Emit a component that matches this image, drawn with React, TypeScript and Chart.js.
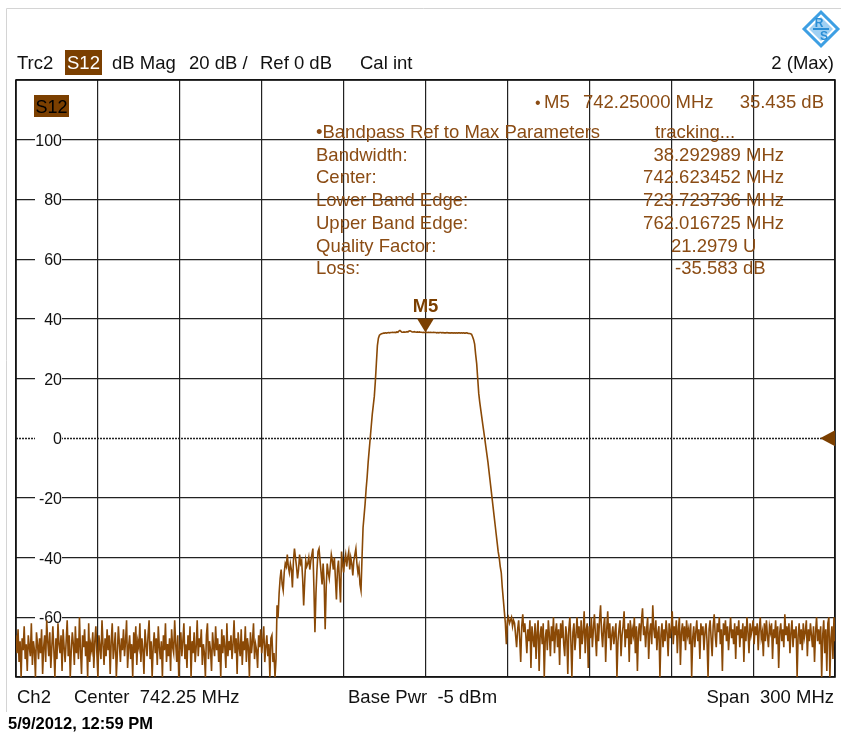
import { useEffect, useRef } from 'react';
import { Chart, registerables } from 'chart.js';

Chart.register(...registerables);

// ---- sweep / axes ----
const startFreq = 592.25;
const stopFreq = 892.25;
const xGridFreqs = [592.25, 622.25, 652.25, 682.25, 712.25, 742.25, 772.25, 802.25, 832.25, 862.25, 892.25];
const yMin = -80;
const yMax = 120;
const yStep = 20;

// ---- trace (S12, dB) in sweep order ----
const noiseLow = [
  -66, -72, -64, -75, -68, -80, -67, -71, -63, -74, -69, -78, -66, -70, -73,
  -62, -76, -68, -71, -80, -65, -69, -74, -67, -72, -64, -79, -70, -66, -75,
  -61, -68, -73, -65, -77, -70, -63, -71, -80, -67, -74, -62, -69, -72, -66,
  -78, -64, -70, -75, -68, -61, -73, -66, -80, -71, -65, -69, -76, -63, -72,
  -67, -74, -60, -71, -79, -66, -70, -64, -73, -68, -80, -62, -75, -69, -71,
  -65, -77, -68, -63, -72, -80, -66, -70, -74, -61, -69, -76, -67, -73, -64,
  -71, -66, -79, -68, -62, -74, -70, -65, -80, -72, -63, -69, -75, -67, -71,
  -64, -73, -68, -61, -77, -70, -66, -74, -69, -80, -65, -72, -63, -76, -68,
  -70, -62, -75, -67, -71, -79, -64, -69, -73, -66, -61, -74, -68, -80, -70,
  -65, -72, -67, -76, -63, -70, -74, -68, -80, -66, -71, -62, -75, -69, -73,
  -67, -78, -64, -70, -72, -61, -69, -75, -66, -80, -71, -65, -73, -68, -62,
  -74, -69, -77, -66, -71, -63, -80, -68, -72, -65, -75, -70, -61, -73, -67,
  -70, -64, -76, -69, -72, -80, -66, -62, -74, -68, -71, -78, -65, -70, -73,
  -63, -71, -67, -75, -69, -80, -64, -72, -66, -70, -77, -62, -73, -68, -71,
  -66, -74, -69, -61, -72, -67, -79, -65, -70, -73, -64, -76, -68, -71, -63,
  -75, -67, -70, -80, -65, -72, -68, -62, -74, -69, -71, -77, -66, -70, -64,
  -72, -68, -63, -75, -70, -66, -73, -69, -80, -67, -66, -75, -72, -80, -74,
];
const shoulder = [
  -56, -60, -52, -47, -44, -49, -51, -45, -42, -43,
  -39, -43, -45, -42, -44, -50, -41, -37, -40, -43,
  -47, -44, -39, -42, -41, -47, -56, -48, -41, -43,
  -42, -40, -44, -41, -39, -37, -50, -65, -52, -44,
  -38, -37, -41, -45, -49, -42, -48, -64, -50, -42,
  -45, -47, -43, -39, -41, -44, -40, -47, -54, -44,
  -41, -48, -55, -38, -42, -45, -41, -39, -43, -40,
  -38, -44, -40, -42, -46, -41, -39, -37, -42, -45,
  -43, -49, -51,
];
const edgeRise = [-40, -30, -26, -22, -17, -13, -8, -4, 0, 4, 8, 11, 14, 19, 25, 31, 33.5, 34.5];
const passTop = [
  34.8, 35.0, 35.1, 35.2, 35.2, 35.3, 35.2, 35.3,
  35.4, 35.3, 35.4, 35.4, 35.5, 35.4, 35.5, 35.4,
  35.6, 35.5, 35.9, 36.1, 35.8, 35.5, 35.5, 35.6,
  35.5, 35.6, 35.7, 35.6, 35.9, 36.0, 35.8, 35.6,
  35.6, 35.7, 35.6, 35.5, 35.6, 35.5, 35.6, 35.5,
  35.5, 35.4, 35.5, 35.4, 35.4, 35.5, 35.4, 35.5,
  35.4, 35.5, 35.4, 35.4, 35.5, 35.4, 35.4, 35.3,
  35.4, 35.3, 35.4, 35.4, 35.3, 35.4, 35.3, 35.3,
  35.3, 35.4, 35.3, 35.3, 35.2, 35.3, 35.3, 35.2,
  35.3, 35.2, 35.3, 35.2, 35.3, 35.3, 35.2, 35.3,
  35.2, 35.3, 35.2, 35.2, 35.3, 35.2, 35.1, 35.1,
];
const edgeFall = [
  35.0, 34.8, 34, 33, 31.5, 28, 25, 20, 15, 12, 9.5, 7, 4.5, 2, -0.5, -3, -5.5, -8, -11,
  -14, -17, -20, -23, -26, -29, -32, -35, -38, -40, -43, -45, -50, -54, -58, -62, -69, -61,
];
const noiseHigh = [
  -60, -62, -61, -60, -63, -61, -62, -66, -70, -64, -61, -67, -75, -63, -59, -65,
  -62, -66, -72, -64, -68, -61, -77, -63, -67, -70, -62, -74, -65, -61, -78, -66,
  -63, -69, -62, -80, -67, -64, -71, -61, -66, -73, -63, -68, -60, -72, -65, -62,
  -70, -64, -76, -62, -67, -61, -69, -73, -63, -66, -79, -64, -60, -68, -80, -65,
  -62, -71, -66, -60, -67, -63, -74, -61, -69, -65, -58, -72, -64, -62, -77, -63,
  -67, -60, -70, -64, -59, -66, -73, -62, -68, -61, -56, -65, -70, -63, -60, -75,
  -64, -58, -67, -62, -71, -66, -63, -69, -65, -62, -80, -68, -64, -61, -73, -66,
  -63, -58, -70, -64, -67, -62, -75, -61, -69, -64, -66, -60, -72, -63, -78, -65,
  -62, -68, -61, -57, -66, -63, -70, -64, -60, -74, -65, -62, -69, -56, -64, -67,
  -61, -71, -65, -63, -80, -66, -62, -70, -64, -68, -61, -65, -73, -62, -67, -64,
  -58, -69, -63, -66, -61, -72, -64, -60, -76, -65, -62, -68, -63, -71, -61, -66,
  -64, -69, -62, -80, -67, -63, -70, -65, -61, -68, -64, -74, -62, -66, -63, -71,
  -65, -62, -68, -80, -64, -61, -67, -73, -63, -59, -66, -70, -62, -65, -60, -69,
  -64, -78, -62, -66, -61, -68, -63, -71, -65, -60, -67, -64, -69, -62, -74, -63,
  -66, -61, -70, -64, -67, -62, -75, -63, -68, -60, -65, -72, -62, -66, -64, -61,
  -69, -63, -66, -62, -71, -64, -60, -67, -65, -73, -62, -68, -61, -66, -70, -63,
  -65, -62, -74, -64, -67, -61, -69, -63, -77, -65, -62, -68, -64, -70, -59, -66,
  -63, -68, -62, -72, -65, -61, -70, -64, -67, -63, -80, -66, -62, -69, -64, -71,
  -62, -67, -65, -61, -73, -64, -68, -62, -66, -70, -63, -75, -65, -60, -68, -64,
  -69, -63, -80, -66, -61, -72, -64, -78, -62, -60, -80, -67, -63, -74, -60, -68,
];

// ---- marker / annotations ----
const markerName = 'M5';
const markerFreq = 742.25;
const markerValue = 35.435;
const refLevel = 0;
const headerTexts = ['Trc2', 'S12', 'dB Mag', '20 dB /', 'Ref 0 dB', 'Cal int'];
const headerRight = '2 (Max)';
const markerLine = ['\u2022', 'M5', '742.25000 MHz', '35.435 dB'];
const bandpassTitle = '\u2022Bandpass Ref to Max Parameters';
const bandpassStatus = 'tracking...';
const bandpassLabels = ['Bandwidth:', 'Center:', 'Lower Band Edge:', 'Upper Band Edge:', 'Quality Factor:', 'Loss:'];
const bandpassValues = ['38.292989 MHz', '742.623452 MHz', '723.723736 MHz', '762.016725 MHz', '21.2979 U', '-35.583 dB'];
const footerTexts = ['Ch2', 'Center  742.25 MHz', 'Base Pwr  -5 dBm', 'Span  300 MHz'];
const timestamp = '5/9/2012, 12:59 PM';

const FONT = '"Liberation Sans", Arial, Helvetica, sans-serif';
const TRACE = '#8a4906';
const TBROWN = '#8b4c14';
const BOX = '#7b3f00';

function put(ctx: CanvasRenderingContext2D, s: string, x: number, y: number, size: number, color: string, align: CanvasTextAlign = 'left', bold = false) {
  ctx.font = `${bold ? 'bold ' : ''}${size}px ${FONT}`;
  ctx.fillStyle = color;
  ctx.textAlign = align;
  ctx.textBaseline = 'alphabetic';
  ctx.fillText(s, x, y);
}

const decorPlugin = {
  id: 'zvaDecor',
  beforeDatasetsDraw(chart: any) {
    const ctx: CanvasRenderingContext2D = chart.ctx;
    const { left, right, top, bottom } = chart.chartArea;
    const ys = chart.scales.y;
    ctx.save();
    // dotted reference (0 dB) line
    const y0 = Math.round(ys.getPixelForValue(refLevel)) + 0.5;
    ctx.strokeStyle = '#222';
    ctx.lineWidth = 1.3;
    ctx.setLineDash([2, 1]);
    ctx.beginPath();
    ctx.moveTo(left, y0);
    ctx.lineTo(right, y0);
    ctx.stroke();
    ctx.setLineDash([]);
    // frame
    ctx.strokeStyle = '#111';
    ctx.lineWidth = 1.6;
    ctx.strokeRect(left, top, right - left, bottom - top);
    // y labels inside plot
    for (const t of ys.ticks) {
      if (t.value <= yMin || t.value >= yMax) continue;
      const y = ys.getPixelForValue(t.value);
      ctx.fillStyle = '#fff';
      ctx.fillRect(left + 19, y - 8, 27, 16);
      put(ctx, String(t.value), left + 46, y + 6, 16, '#111', 'right');
    }
    ctx.restore();
  },
  afterDatasetsDraw(chart: any) {
    const ctx: CanvasRenderingContext2D = chart.ctx;
    const { left, right, top } = chart.chartArea;
    const xs = chart.scales.x;
    const ys = chart.scales.y;
    ctx.save();
    // S12 trace label box
    ctx.fillStyle = BOX;
    ctx.fillRect(left + 18, top + 15, 35, 22);
    put(ctx, headerTexts[1], left + 35.5, top + 33, 18, '#000', 'center');
    // marker M5
    const mx = xs.getPixelForValue(markerFreq);
    const my = ys.getPixelForValue(markerValue);
    ctx.fillStyle = '#7b3f00';
    ctx.beginPath();
    ctx.moveTo(mx, my);
    ctx.lineTo(mx - 8.5, my - 14);
    ctx.lineTo(mx + 8.5, my - 14);
    ctx.closePath();
    ctx.fill();
    put(ctx, markerName, mx, my - 20, 18.5, '#7b3f00', 'center', true);
    // reference level arrow on right edge
    const ry = ys.getPixelForValue(refLevel);
    ctx.fillStyle = '#7b3f00';
    ctx.beginPath();
    ctx.moveTo(right - 15, ry);
    ctx.lineTo(right, ry - 8);
    ctx.lineTo(right, ry + 8);
    ctx.closePath();
    ctx.fill();
    ctx.restore();
  },
  afterDraw(chart: any) {
    const ctx: CanvasRenderingContext2D = chart.ctx;
    ctx.save();
    // outer light frame of the screenshot
    ctx.strokeStyle = '#d4d4d4';
    ctx.lineWidth = 1;
    ctx.beginPath();
    ctx.moveTo(6.5, 712);
    ctx.lineTo(6.5, 8.5);
    ctx.lineTo(841, 8.5);
    ctx.stroke();

    // header
    const hb = 69;
    put(ctx, headerTexts[0], 17, hb, 18.5, '#111');
    ctx.fillStyle = BOX;
    ctx.fillRect(65, 50, 37, 25);
    put(ctx, headerTexts[1], 67, hb, 18.5, '#fff');
    put(ctx, headerTexts[2], 112, hb, 18.5, '#111');
    put(ctx, headerTexts[3], 189, hb, 18.5, '#111');
    put(ctx, headerTexts[4], 260, hb, 18.5, '#111');
    put(ctx, headerTexts[5], 360, hb, 18.5, '#111');
    put(ctx, headerRight, 834, hb, 18.5, '#111', 'right');

    // marker readout
    put(ctx, markerLine[0], 535, 108, 16, TBROWN);
    put(ctx, markerLine[1], 544, 108, 18.5, TBROWN);
    put(ctx, markerLine[2], 583, 108, 18.5, TBROWN);
    put(ctx, markerLine[3], 824, 108, 18.5, TBROWN, 'right');

    // bandpass table
    const rowH = 22.7;
    put(ctx, bandpassTitle, 316, 138, 18.5, TBROWN);
    put(ctx, bandpassStatus, 655, 138, 18.5, TBROWN);
    bandpassLabels.forEach((s, i) => put(ctx, s, 316, 138 + rowH * (i + 1), 18.5, TBROWN));
    bandpassValues.forEach((s, i) => {
      const yb = 138 + rowH * (i + 1);
      if (i < 4) put(ctx, s, 784, yb, 18.5, TBROWN, 'right');
      else put(ctx, s, i === 4 ? 671 : 675, yb, 18.5, TBROWN);
    });

    // footer
    put(ctx, footerTexts[0], 17, 703, 18.5, '#111');
    put(ctx, footerTexts[1], 74, 703, 18.5, '#111');
    put(ctx, footerTexts[2], 348, 703, 18.5, '#111');
    put(ctx, footerTexts[3], 834, 703, 18.5, '#111', 'right');
    put(ctx, timestamp, 8, 729, 16.5, '#000', 'left', true);

    // R&S logo
    const cx = 821, cy = 29;
    ctx.translate(cx, cy);
    ctx.rotate(Math.PI / 4);
    ctx.fillStyle = '#3d9fe3';
    ctx.fillRect(-13.5, -13.5, 27, 27);
    ctx.fillStyle = '#ffffff';
    ctx.fillRect(-10.5, -10.5, 21, 21);
    ctx.fillStyle = '#9fd0f3';
    ctx.fillRect(-8.5, -8.5, 17, 17);
    ctx.rotate(-Math.PI / 4);
    ctx.fillStyle = '#2b8fd6';
    ctx.fillRect(-8, -1, 16, 2);
    put(ctx, 'R', -2, -2, 12, '#2b8fd6', 'center', true);
    put(ctx, 'S', 3, 11, 12, '#2b8fd6', 'center', true);
    ctx.restore();
  },
};

export default function App() {
  const ref = useRef<HTMLCanvasElement | null>(null);
  useEffect(() => {
    document.body.style.margin = '0';
    const canvas = ref.current;
    if (!canvas) return;
    const values = [...noiseLow, ...shoulder, ...edgeRise, ...passTop, ...edgeFall, ...noiseHigh];
    const step = (stopFreq - startFreq) / (values.length - 1);
    const points = values.map((v, i) => ({ x: startFreq + i * step, y: v }));
    const chart = new Chart(canvas, {
      type: 'line',
      data: {
        datasets: [
          {
            data: points,
            borderColor: TRACE,
            borderWidth: 1.6,
            pointRadius: 0,
            tension: 0,
          },
        ],
      },
      options: {
        animation: false,
        responsive: false,
        events: [],
        layout: { padding: { left: 16, top: 80, right: 6, bottom: 59 } },
        plugins: { legend: { display: false }, tooltip: { enabled: false }, title: { display: false } },
        scales: {
          x: {
            type: 'linear',
            min: startFreq,
            max: stopFreq,
            afterBuildTicks: (s: any) => {
              s.ticks = xGridFreqs.map((v) => ({ value: v }));
            },
            ticks: { display: false },
            grid: { color: '#222', lineWidth: 1.2, drawTicks: false },
            border: { display: false },
          },
          y: {
            type: 'linear',
            min: yMin,
            max: yMax,
            ticks: { display: false, stepSize: yStep },
            grid: {
              color: (c: any) => (c.tick && c.tick.value === refLevel ? 'rgba(0,0,0,0)' : '#222'),
              lineWidth: 1.2,
              drawTicks: false,
            },
            border: { display: false },
          },
        },
      },
      plugins: [decorPlugin],
    });
    return () => chart.destroy();
  }, []);
  return <canvas ref={ref} width={841} height={736} style={{ display: 'block', width: 841, height: 736 }} />;
}
